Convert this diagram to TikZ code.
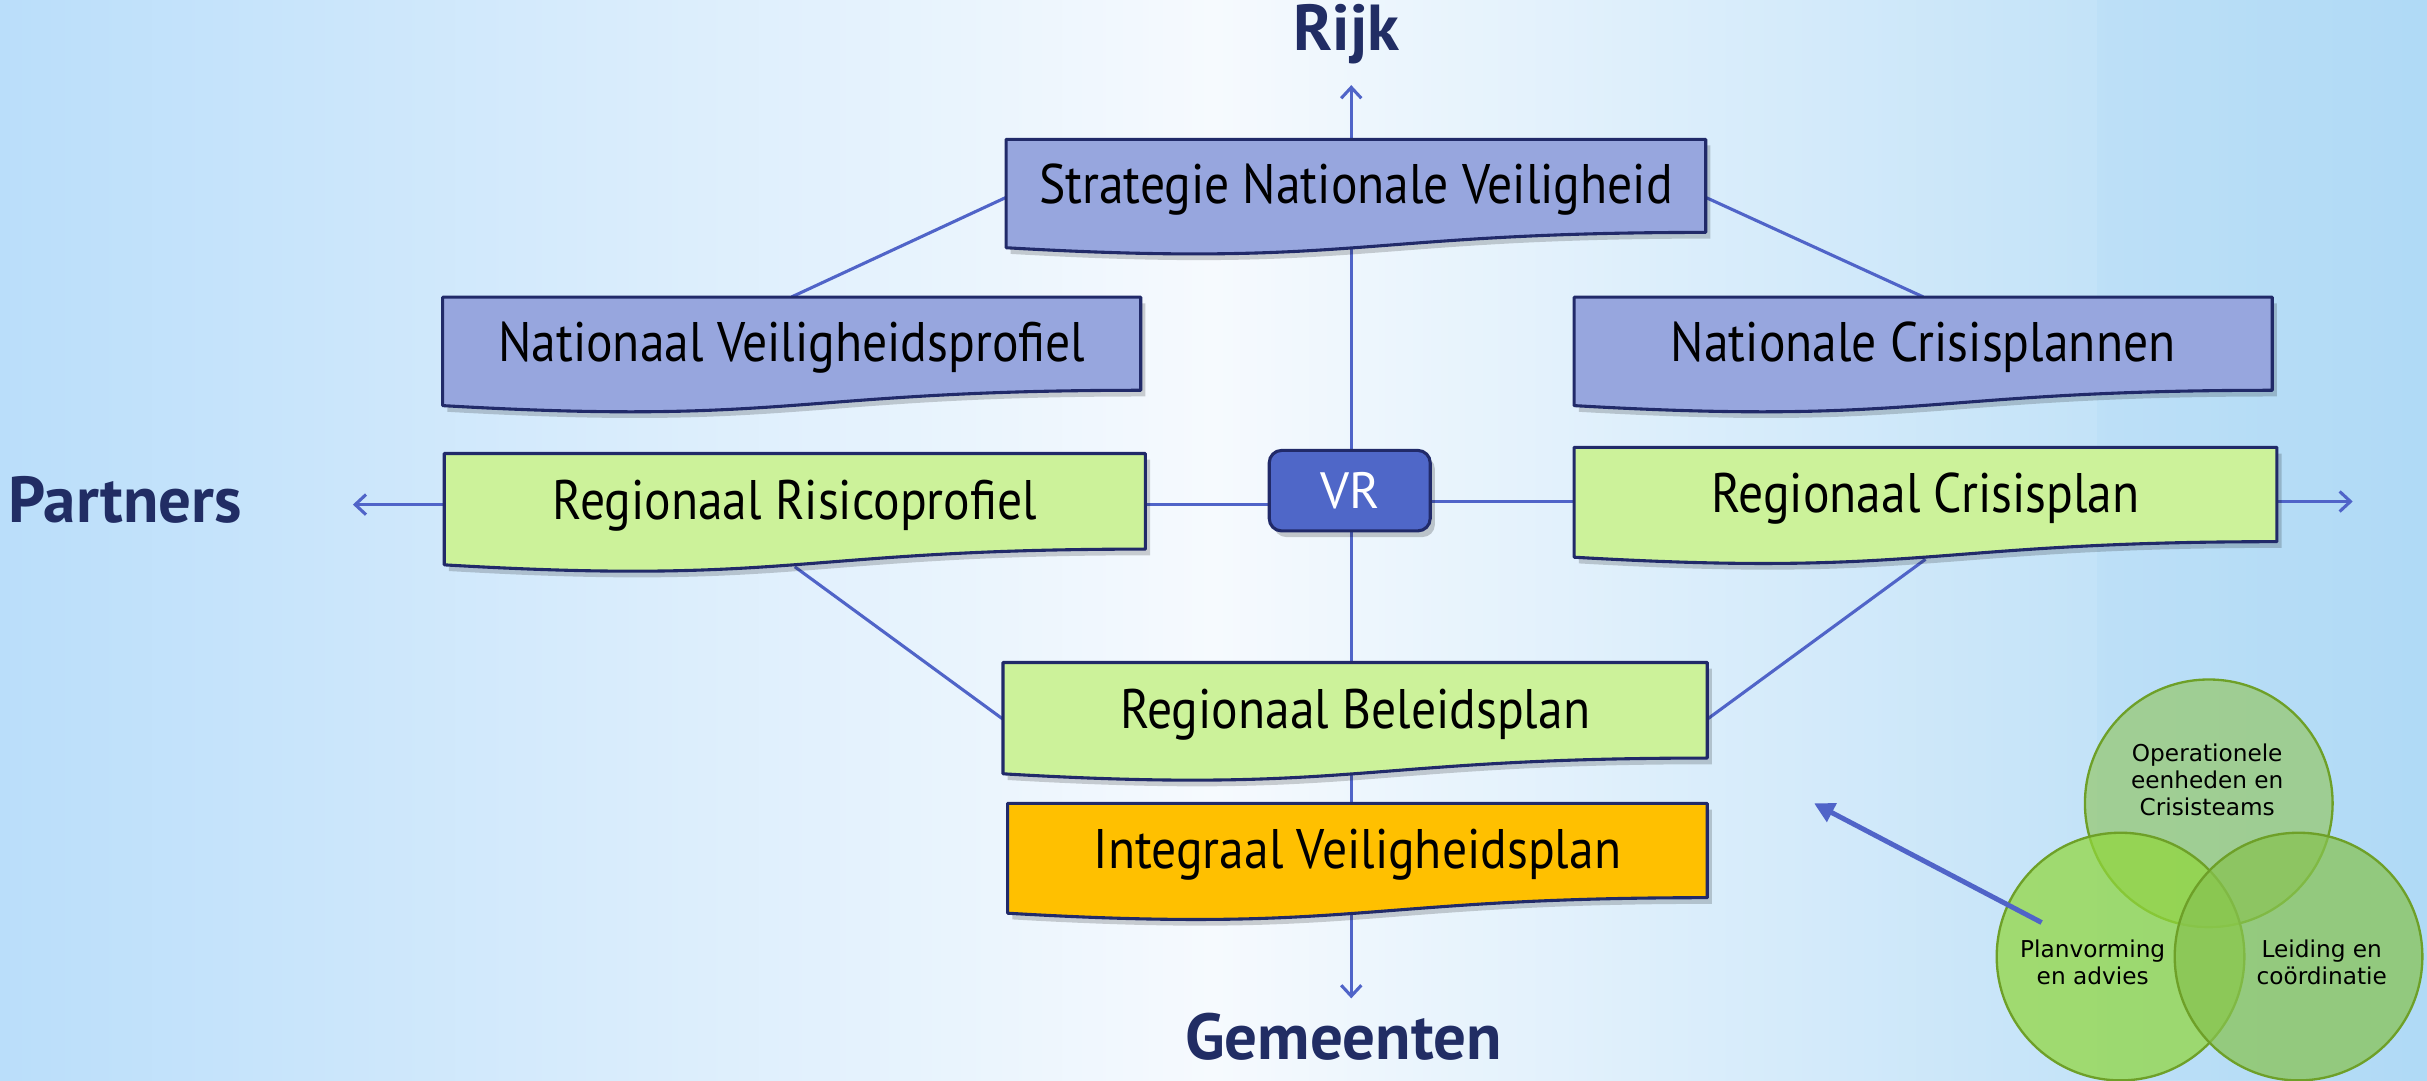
\documentclass[tikz,border=0pt]{standalone}
\usepackage{fontspec}
\setmainfont{PT Sans}
\newfontfamily\boxfont[FakeStretch=0.89]{PT Sans}
\newfontfamily\headfont{PT Sans}
\newfontfamily\venfont{DejaVu Sans}
\usetikzlibrary{arrows.meta,calc}
\pgfdeclarelayer{bg}
\pgfdeclarelayer{lines}
\pgfsetlayers{bg,lines,main}
\definecolor{boxblue}{RGB}{151,166,222}
\definecolor{navy}{RGB}{33,42,105}
\definecolor{boxgreen}{RGB}{204,242,154}
\definecolor{boxorange}{RGB}{255,192,0}
\definecolor{conncol}{RGB}{80,100,200}
\definecolor{vrfill}{RGB}{79,103,200}
\definecolor{headcol}{RGB}{33,45,100}
\definecolor{bgleft}{RGB}{186,222,250}
\definecolor{bgmid}{RGB}{246,250,254}
\definecolor{bgright}{RGB}{176,218,246}
\definecolor{vtop}{RGB}{150,200,110}
\definecolor{vleft}{RGB}{145,215,60}
\definecolor{vright}{RGB}{135,195,80}
\definecolor{vedge}{RGB}{110,160,40}
\tikzset{
  docline/.style={draw=navy, line width=2pt, line join=round},
  boxtext/.style={font=\boxfont\fontsize{36}{40}\selectfont, text=black, inner sep=0pt},
  conn/.style={draw=conncol, line width=2pt},
  tip/.style={-{Straight Barb[length=7pt,width=13pt,line width=2pt]}},
  heading/.style={font=\headfont\bfseries\fontsize{42}{46}\selectfont, text=headcol},
  vcirc/.style={circle, minimum size=160pt, inner sep=0pt, draw=vedge, line width=1.5pt, fill opacity=0.72},
  vtext/.style={font=\venfont\fontsize{15}{17.5}\selectfont, align=center, text=black},
}
% #1 name #2 x1 #3 x2 #4 ytop #5 H #6 fill #7 text
\newcommand\docbox[7]{%
  \pgfmathsetmacro\dbw{#3-#2}%
  \pgfmathsetmacro\dbR{#4+0.802*#5}%
  \pgfmathsetmacro\dbL{#4+0.934*#5}%
  \pgfmathsetmacro\dbC{#4+1.1075*#5}%
  \pgfmathsetmacro\dbM{(#2+#3)/2}%
  \pgfmathsetmacro\dbT{#4+0.435*#5}%
  \pgfmathsetmacro\dbNH{0.87*#5}%
  \fill[black,opacity=0.18,xshift=3pt,yshift=-4pt] (#2,#4) -- (#3,#4) -- (#3,\dbR) .. controls (\dbM,\dbR) and (\dbM,\dbC) .. (#2,\dbL) -- cycle;
  \path[docline,fill=#6] (#2,#4) -- (#3,#4) -- (#3,\dbR) .. controls (\dbM,\dbR) and (\dbM,\dbC) .. (#2,\dbL) -- cycle;
  \node[boxtext, minimum width=\dbw, minimum height=\dbNH] (#1) at (\dbM,\dbT) {#7};
}
\begin{document}
\begin{tikzpicture}[x=1pt,y=-1pt]
\useasboundingbox (0,0) rectangle (1568,698);
\begin{pgfonlayer}{bg}
  \shade[left color=bgleft, right color=bgright, middle color=bgmid] (0,0) rectangle (1568,698);
  \fill[bgright,opacity=0.3] (1355,0) rectangle (1568,698);
\end{pgfonlayer}

% headings
\node[heading] (rijk) at (870,22) {Rijk};
\node[heading] (partners) at (81,323) {Partners};
\node[heading] (gemeenten) at (868,670) {Gemeenten};

% boxes
\docbox{snv}{650}{1102}{90}{75}{boxblue}{Strategie Nationale Veiligheid}
\docbox{nvp}{286}{737}{192}{75}{boxblue}{Nationaal Veiligheidsprofiel}
\docbox{ncp}{1017}{1468}{192}{75}{boxblue}{Nationale Crisisplannen}
\docbox{rrp}{287}{740}{293}{77}{boxgreen}{Regionaal Risicoprofiel}
\docbox{rcp}{1017}{1471}{289}{76}{boxgreen}{Regionaal Crisisplan}
\docbox{rbp}{648}{1103}{428}{77}{boxgreen}{Regionaal Beleidsplan}
\docbox{ivp}{651}{1103}{519}{76}{boxorange}{Integraal Veiligheidsplan}

% VR
\fill[black,opacity=0.2,rounded corners=8pt] (823,295) rectangle (927,347);
\node[draw=navy, line width=2pt, fill=vrfill, rounded corners=8pt, minimum width=104pt, minimum height=52pt, text=white, font=\fontsize{33}{35}\selectfont] (vr) at (872,317) {VR};

% free ends
\coordinate (uptip) at (873,55);
\coordinate (downtip) at (873,645);
\coordinate (lefttip) at (228,326);
\coordinate (righttip) at (1520,324);

\begin{pgfonlayer}{lines}
  \draw[conn,tip] (vr.center -| uptip) -- (uptip);
  \draw[conn,tip] (vr.center -| downtip) -- (downtip);
  \draw[conn,tip] (rrp.center |- lefttip) -- (lefttip);
  \draw[conn] (rrp.center |- lefttip) -- (vr.center |- lefttip);
  \draw[conn] (vr.center |- righttip) -- (rcp.center |- righttip);
  \draw[conn,tip] (rcp.center |- righttip) -- (righttip);
  \draw[conn] (nvp.north) -- ($(snv.west)+(0,5)$);
  \draw[conn] ($(snv.east)+(0,5)$) -- (ncp.north);
  \draw[conn] ($(rrp.south)+(0,6)$) -- ($(rbp.west)+(0,3)$);
  \draw[conn] ($(rbp.east)+(0,3)$) -- ($(rcp.south)+(0,6)$);
\end{pgfonlayer}

% Venn
\node[vcirc, fill=vtop] (c1) at (1427,519) {};
\node[vcirc, fill=vleft] (c2) at (1370,618) {};
\node[vcirc, fill=vright] (c3) at (1485,618) {};
\node[vtext] (t1) at (1426,504) {Operationele\\eenheden en\\Crisisteams};
\node[vtext] (t2) at (1352,622) {Planvorming\\en advies};
\node[vtext] (t3) at (1500,622) {Leiding en\\coördinatie};
\coordinate (vstart) at (1319,596);
\coordinate (vtip) at (1172,519);
\draw[draw=conncol, line width=3.2pt, -{Triangle[length=13pt,width=13pt]}] (vstart) -- (vtip);
\end{tikzpicture}
\end{document}
